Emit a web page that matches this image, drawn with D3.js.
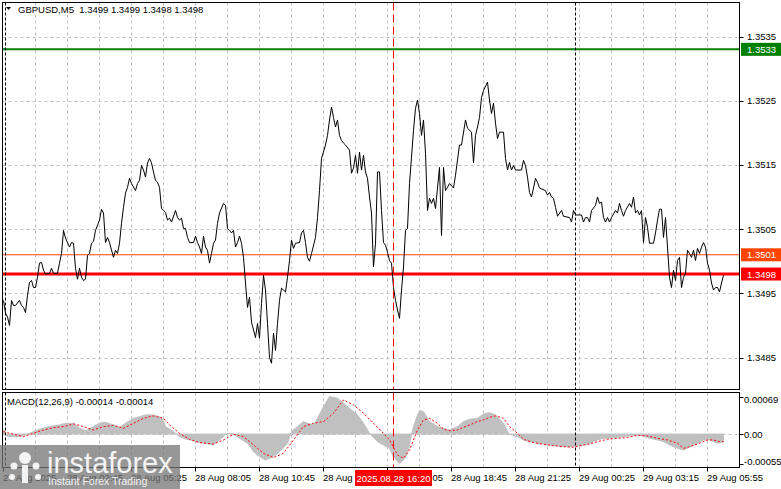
<!DOCTYPE html>
<html><head><meta charset="utf-8">
<script src="https://cdn.jsdelivr.net/npm/d3@7"></script>
<style>
body{margin:0;background:#fff;}
svg{display:block;}
text{font-family:"Liberation Sans",Arial,sans-serif;}
</style></head>
<body><svg id="chart" width="781" height="489"></svg>
<script>
// ---------- data ----------
const symbolTitle = "GBPUSD,M5";
const lastOHLC = ["1.3499", "1.3499", "1.3498", "1.3498"];
const macdTitle = "MACD(12,26,9)";
const macdLast = ["-0.00014", "-0.00014"];

// [bar index, close]
const closeSeries = [
[0,1.34939],[1,1.34919],[2,1.34913],[3,1.34900],[4,1.34939],[5,1.34931],[6,1.34931],[8,1.34939],[9,1.34931],[10,1.34928],
[11,1.34920],[12,1.34947],[13,1.34967],[14,1.34970],[15,1.34959],[16,1.34959],[17,1.34975],[18,1.34997],[19,1.34998],[20,1.34986],
[21,1.34980],[23,1.34981],[24,1.34989],[25,1.34981],[27,1.34981],[28,1.34997],[29,1.35012],[30,1.35048],[31,1.35036],[33,1.35022],
[34,1.35029],[35,1.35028],[36,1.34989],[37,1.34972],[38,1.34989],[39,1.34975],[40,1.34970],[41,1.34972],[42,1.35009],[43,1.35012],
[44,1.35028],[45,1.35031],[46,1.35048],[48,1.35064],[49,1.35081],[50,1.35075],[51,1.35029],[52,1.35037],[53,1.35029],[55,1.35006],
[56,1.35017],[57,1.35012],[58,1.35028],[59,1.35059],[60,1.35084],[61,1.35106],[62,1.35115],[63,1.35129],[64,1.35121],[66,1.35110],
[67,1.35121],[68,1.35126],[69,1.35149],[70,1.35142],[71,1.35131],[72,1.35153],[73,1.35160],[74,1.35153],[75,1.35139],[76,1.35126],
[77,1.35123],[78,1.35115],[79,1.35082],[80,1.35079],[81,1.35076],[82,1.35064],[83,1.35067],[84,1.35061],[86,1.35079],[87,1.35068],
[88,1.35064],[89,1.35067],[90,1.35051],[91,1.35051],[92,1.35037],[93,1.35029],[95,1.35029],[96,1.35039],[97,1.35029],[98,1.35022],
[99,1.35012],[100,1.35039],[101,1.35022],[102,1.35017],[103,1.34997],[104,1.35012],[105,1.35028],[106,1.35033],[107,1.35059],[108,1.35075],
[110,1.35090],[111,1.35087],[112,1.35051],[113,1.35048],[114,1.35044],[115,1.35048],[116,1.35022],[117,1.35029],[118,1.35039],[119,1.35028],
[120,1.35006],[121,1.34966],[122,1.34928],[123,1.34944],[124,1.34905],[126,1.34881],[127,1.34903],[128,1.34880],[129,1.34934],[130,1.34978],
[131,1.34955],[132,1.34903],[133,1.34850],[134,1.34841],[135,1.34888],[136,1.34861],[137,1.34903],[138,1.34939],[139,1.34958],[140,1.34955],
[141,1.34952],[142,1.34975],[143,1.35001],[144,1.35033],[145,1.35020],[146,1.35028],[148,1.35029],[149,1.35044],[150,1.35048],[151,1.35029],
[152,1.35006],[153,1.35000],[154,1.35012],[156,1.35037],[157,1.35068],[158,1.35110],[159,1.35160],[161,1.35181],[162,1.35196],[163,1.35220],
[164,1.35240],[165,1.35224],[166,1.35209],[167,1.35220],[168,1.35196],[169,1.35188],[170,1.35184],[171,1.35181],[173,1.35173],[174,1.35137],
[175,1.35145],[176,1.35165],[177,1.35137],[178,1.35170],[179,1.35142],[180,1.35165],[181,1.35139],[182,1.35129],[183,1.35100],[184,1.35075],
[185,1.34991],[186,1.35028],[187,1.35139],[188,1.35139],[189,1.35079],[190,1.35029],[191,1.35025],[192,1.35014],[193,1.35001],[194,1.34997],
[195,1.34959],[196,1.34939],[197,1.34924],[198,1.34911],[199,1.34955],[200,1.34991],[201,1.35048],[202,1.35051],[203,1.35121],[204,1.35162],
[205,1.35204],[206,1.35238],[207,1.35251],[208,1.35230],[209,1.35196],[210,1.35220],[211,1.35168],[212,1.35079],[213,1.35098],[214,1.35090],
[215,1.35098],[216,1.35082],[218,1.35146],[219,1.35040],[220,1.35146],[221,1.35110],[222,1.35115],[223,1.35121],[225,1.35114],[226,1.35134],
[228,1.35181],[229,1.35181],[231,1.35220],[232,1.35207],[234,1.35201],[235,1.35153],[236,1.35196],[237,1.35209],[238,1.35224],[239,1.35255],
[240,1.35266],[242,1.35279],[243,1.35251],[244,1.35230],[245,1.35246],[246,1.35215],[247,1.35191],[248,1.35201],[250,1.35201],[251,1.35160],
[252,1.35142],[253,1.35154],[254,1.35142],[255,1.35149],[256,1.35142],[259,1.35142],[260,1.35157],[261,1.35149],[262,1.35131],[263,1.35107],
[264,1.35100],[265,1.35114],[266,1.35129],[267,1.35123],[268,1.35114],[271,1.35110],[272,1.35103],[273,1.35107],[274,1.35100],[275,1.35098],
[276,1.35084],[277,1.35070],[279,1.35079],[280,1.35070],[283,1.35068],[284,1.35061],[285,1.35079],[286,1.35072],[289,1.35072],[290,1.35061],
[291,1.35068],[292,1.35068],[293,1.35061],[294,1.35079],[296,1.35087],[297,1.35100],[298,1.35090],[299,1.35092],[300,1.35068],[301,1.35061],
[302,1.35068],[303,1.35061],[304,1.35068],[306,1.35079],[307,1.35075],[308,1.35090],[309,1.35079],[310,1.35070],[311,1.35079],[313,1.35090],
[314,1.35084],[315,1.35100],[316,1.35075],[317,1.35079],[318,1.35072],[319,1.35079],[320,1.35029],[321,1.35068],[322,1.35053],[323,1.35028],
[325,1.35028],[326,1.35044],[327,1.35064],[328,1.35081],[329,1.35081],[330,1.35037],[331,1.35068],[332,1.35022],[333,1.34975],[334,1.34959],
[335,1.34986],[336,1.34970],[337,1.35001],[338,1.35006],[339,1.34959],[340,1.34975],[341,1.34981],[342,1.35017],[343,1.35012],[344,1.35006],
[345,1.35017],[346,1.35001],[347,1.35020],[348,1.35012],[349,1.35022],[350,1.35029],[351,1.35022],[352,1.34997],[353,1.34986],[354,1.34966],
[355,1.34955],[356,1.34959],[357,1.34959],[358,1.34952],[359,1.34966],[360,1.34978]
];

// MACD main (histogram) [bar, value]
const macdHistSeries = [
[0,0.000075],[2,-0.000047],[5,-0.000047],[8,-0.000047],[11,-0.000017],[15,0.000045],[18,0.000088],[23,0.000137],[28,0.000167],[31,0.000198],
[35,0.000198],[38,0.000106],[41,0.000063],[45,0.000137],[48,0.000198],[51,0.000216],[55,0.000167],[58,0.000124],[61,0.000198],[65,0.000290],
[68,0.000320],[71,0.000351],[75,0.000351],[78,0.000320],[80,0.000247],[81,0.000137],[85,0.000045],[88,-0.000047],[91,-0.000090],[95,-0.000121],
[98,-0.000157],[101,-0.000170],[105,-0.000200],[108,-0.000108],[110,-0.000047],[111,-0.000004],[113,0.000014],[115,-0.000004],[118,-0.000078],[122,-0.000170],
[125,-0.000323],[128,-0.000415],[131,-0.000476],[135,-0.000415],[138,-0.000323],[142,-0.000170],[144,0.000045],[147,0.000137],[150,0.000229],[152,0.000198],
[155,0.000167],[157,0.000290],[160,0.000504],[163,0.000688],[167,0.000657],[170,0.000566],[173,0.000474],[177,0.000351],[180,0.000198],[183,0.000014],
[187,-0.000139],[190,-0.000200],[193,-0.000262],[195,-0.000416],[197,-0.000507],[198,-0.000538],[200,-0.000476],[202,-0.000354],[203,-0.000200],[204,-0.000004],
[205,0.000137],[207,0.000351],[208,0.000431],[210,0.000412],[212,0.000290],[213,0.000229],[217,0.000137],[220,0.000106],[223,0.000075],[227,0.000137],
[230,0.000229],[233,0.000271],[237,0.000290],[240,0.000369],[243,0.000394],[246,0.000351],[250,0.000198],[252,0.000045],[253,-0.000004],[257,-0.000047],
[260,-0.000108],[263,-0.000139],[267,-0.000170],[270,-0.000182],[273,-0.000200],[277,-0.000219],[280,-0.000231],[283,-0.000231],[287,-0.000219],[290,-0.000200],
[293,-0.000170],[297,-0.000108],[300,-0.000078],[303,-0.000078],[307,-0.000059],[310,-0.000047],[313,-0.000035],[317,-0.000017],[320,-0.000035],[323,-0.000078],
[327,-0.000108],[330,-0.000139],[333,-0.000200],[337,-0.000262],[340,-0.000292],[343,-0.000243],[347,-0.000170],[350,-0.000108],[353,-0.000108],[357,-0.000170],
[360,-0.000140]
];

// MACD signal [bar, value]
const macdSignalSeries = [
[0,0.000045],[5,-0.000004],[10,-0.000047],[15,0.000014],[20,0.000075],[25,0.000118],[30,0.000137],[35,0.000186],[40,0.000137],[45,0.000075],
[50,0.000137],[55,0.000161],[60,0.000106],[65,0.000198],[70,0.000290],[75,0.000333],[80,0.000290],[83,0.000167],[88,0.000014],[93,-0.000096],
[98,-0.000157],[105,-0.000182],[110,-0.000108],[115,-0.000004],[120,-0.000047],[125,-0.000200],[130,-0.000354],[135,-0.000433],[140,-0.000354],[145,-0.000108],
[150,0.000137],[155,0.000198],[160,0.000229],[165,0.000382],[170,0.000627],[175,0.000535],[180,0.000382],[185,0.000198],[190,0.000014],[193,-0.000108],
[197,-0.000385],[200,-0.000446],[203,-0.000292],[207,0.000075],[210,0.000259],[213,0.000290],[217,0.000198],[220,0.000088],[223,0.000063],[227,0.000075],
[230,0.000124],[233,0.000167],[237,0.000229],[240,0.000259],[243,0.000308],[246,0.000333],[250,0.000290],[253,0.000137],[257,0.000014],[260,-0.000096],
[265,-0.000157],[270,-0.000188],[275,-0.000212],[280,-0.000231],[285,-0.000243],[290,-0.000200],[293,-0.000182],[297,-0.000139],[302,-0.000096],[307,-0.000078],
[312,-0.000065],[317,-0.000023],[322,-0.000035],[327,-0.000078],[332,-0.000108],[337,-0.000170],[340,-0.000262],[343,-0.000231],[348,-0.000170],[352,-0.000108],
[355,-0.000108],[358,-0.000139],[360,-0.000140]
];

const priceTicks = [1.3535, 1.3525, 1.3515, 1.3505, 1.3495, 1.3485];
const levelValues = [1.3533, 1.3501, 1.3498];
const macdTicks = [0.00069, 0, -0.00055];
const timeTickBars = [0, 32, 64, 96, 128, 160, 192, 224, 256, 288, 320, 352];
const timeTickLabels = ["27 Aug 2025", "28 Aug 02:45", "28 Aug 05:25", "28 Aug 08:05", "28 Aug 10:45", "28 Aug 13:25",
  "28 Aug 16:05", "28 Aug 18:45", "28 Aug 21:25", "29 Aug 00:25", "29 Aug 03:15", "29 Aug 05:55"];
const daySeparatorBars = [1, 286];
const cursorBar = 195;
const cursorLabel = "2025.08.28 16:20";
const barsInView = 368;

// ---------- layout ----------
const svg = d3.select("#chart");
const L = 2.5, R = 739.5;
const mainTop = 2.5, mainBot = 389.5;
const subTop = 392.5, subBot = 467.5;
const FS = "9.5px";

const x = d3.scaleLinear().domain([0, barsInView]).range([3.5, 739.5]);
const y = d3.scaleLinear().domain([1.3485, 1.3535]).range([357.5, 36.5]);
const ym = d3.scaleLinear().domain([-0.00055, 0.00069]).range([464, 396.5]);

svg.append("rect").attr("width", 781).attr("height", 489).attr("fill", "#fff");

const defs = svg.append("defs");
defs.append("clipPath").attr("id", "cm").append("rect").attr("x", L).attr("y", mainTop).attr("width", R - L).attr("height", mainBot - mainTop);
defs.append("clipPath").attr("id", "cs").append("rect").attr("x", L).attr("y", subTop).attr("width", R - L).attr("height", subBot - subTop);

const gridColor = "#c0c0c0";
const gridDash = "3,3";
const vGridBars = d3.range(16, barsInView, 16);

// main grid
const gm = svg.append("g").attr("clip-path", "url(#cm)");
gm.selectAll(".hg").data(priceTicks).join("line")
  .attr("x1", L).attr("x2", R).attr("y1", d => Math.round(y(d)) + 0.5).attr("y2", d => Math.round(y(d)) + 0.5)
  .attr("stroke", gridColor).attr("stroke-dasharray", gridDash);
gm.selectAll(".vg").data(vGridBars).join("line")
  .attr("x1", d => x(d)).attr("x2", d => x(d)).attr("y1", mainTop).attr("y2", mainBot)
  .attr("stroke", gridColor).attr("stroke-dasharray", gridDash);

// sub grid
const gs = svg.append("g").attr("clip-path", "url(#cs)");
gs.selectAll(".vg").data(vGridBars).join("line")
  .attr("x1", d => x(d)).attr("x2", d => x(d)).attr("y1", subTop).attr("y2", subBot)
  .attr("stroke", gridColor).attr("stroke-dasharray", gridDash);
gs.append("line").attr("x1", L).attr("x2", R).attr("y1", Math.round(ym(0)) + 0.5).attr("y2", Math.round(ym(0)) + 0.5)
  .attr("stroke", gridColor).attr("stroke-dasharray", gridDash);

// day separators
[[mainTop, mainBot], [subTop, subBot]].forEach(([a, b]) => {
  svg.selectAll(null).data(daySeparatorBars).join("line")
    .attr("x1", d => x(d)).attr("x2", d => x(d)).attr("y1", a).attr("y2", b)
    .attr("stroke", "#000").attr("stroke-dasharray", "3,2");
});

// histogram
gs.append("path").datum(macdHistSeries)
  .attr("d", d3.area().x(d => x(d[0])).y0(ym(0)).y1(d => ym(d[1])))
  .attr("fill", "#c0c0c0").attr("stroke", "#c0c0c0").attr("stroke-width", 1);
// signal
gs.append("path").datum(macdSignalSeries)
  .attr("d", d3.line().x(d => x(d[0])).y(d => ym(d[1])))
  .attr("fill", "none").attr("stroke", "#ff0000").attr("stroke-width", 1).attr("stroke-dasharray", "2,2");

// level lines
const levelColors = ["#008000", "#ff4500", "#ff0000"];
const levelWidths = [2, 1, 3];
gm.selectAll(".lv").data(levelValues).join("line")
  .attr("x1", L).attr("x2", R).attr("y1", d => y(d)).attr("y2", d => y(d))
  .attr("stroke", (d, i) => levelColors[i]).attr("stroke-width", (d, i) => levelWidths[i]);

// cursor vertical line
[[mainTop, mainBot], [subTop, subBot]].forEach(([a, b]) => {
  svg.append("line").attr("x1", x(cursorBar)).attr("x2", x(cursorBar)).attr("y1", a).attr("y2", b)
    .attr("stroke", "#ff0000").attr("stroke-dasharray", "8,4");
});

// price line
gm.append("path").datum(closeSeries)
  .attr("d", d3.line().x(d => x(d[0])).y(d => y(d[1])))
  .attr("fill", "none").attr("stroke", "#000").attr("stroke-width", 1);

// frames
svg.append("rect").attr("x", L).attr("y", mainTop).attr("width", R - L).attr("height", mainBot - mainTop)
  .attr("fill", "none").attr("stroke", "#000");
svg.append("rect").attr("x", L).attr("y", subTop).attr("width", R - L).attr("height", subBot - subTop)
  .attr("fill", "none").attr("stroke", "#000");

// right price axis
svg.selectAll(".pt").data(priceTicks).join("line")
  .attr("x1", R).attr("x2", R + 4).attr("y1", d => Math.round(y(d)) + 0.5).attr("y2", d => Math.round(y(d)) + 0.5).attr("stroke", "#000");
svg.selectAll(".pl").data(priceTicks).join("text")
  .attr("x", 747).attr("y", d => y(d) + 3.5).attr("font-size", FS).attr("fill", "#000")
  .text(d => d.toFixed(4));

// level labels
const lvG = svg.selectAll(".lvl").data(levelValues).join("g");
lvG.append("rect").attr("x", 741).attr("y", d => y(d) - 6.5).attr("width", 40).attr("height", 13)
  .attr("fill", (d, i) => levelColors[i]);
lvG.append("text").attr("x", 747).attr("y", d => y(d) + 3.5).attr("font-size", FS).attr("fill", "#fff")
  .text(d => d.toFixed(4));

// macd axis
svg.selectAll(".mt").data(macdTicks).join("line")
  .attr("x1", R).attr("x2", R + 4).attr("y1", d => Math.round(ym(d)) + 0.5).attr("y2", d => Math.round(ym(d)) + 0.5).attr("stroke", "#000");
svg.selectAll(".ml").data(macdTicks).join("text")
  .attr("x", 744).attr("y", (d, i) => ym(d) + 3.5 + (i === 0 ? 2.5 : i === 2 ? -3 : 0)).attr("font-size", FS).attr("fill", "#000")
  .text(d => d === 0 ? "0.00" : d.toFixed(5));

// time axis
svg.selectAll(".tt").data(timeTickBars).join("line")
  .attr("x1", d => x(d)).attr("x2", d => x(d)).attr("y1", subBot).attr("y2", subBot + 4).attr("stroke", "#000");
svg.selectAll(".tl").data(timeTickBars).join("text")
  .attr("x", d => x(d) - 0.5).attr("y", 481).attr("font-size", FS).attr("fill", "#000")
  .text((d, i) => timeTickLabels[i]);

// cursor time label
const cw = 77;
svg.append("rect").attr("x", x(cursorBar) - cw / 2).attr("y", 470).attr("width", cw).attr("height", 16).attr("fill", "#ff0000");
svg.append("text").attr("x", x(cursorBar)).attr("y", 481.5).attr("text-anchor", "middle").attr("font-size", FS).attr("fill", "#fff").text(cursorLabel);

// headers
svg.append("path").attr("d", "M6,7 L11,7 L8.5,10 Z").attr("fill", "#000");
svg.append("text").attr("x", 18).attr("y", 13).attr("font-size", FS).attr("fill", "#000")
  .attr("xml:space", "preserve").text(symbolTitle + "  " + lastOHLC.join(" "));
svg.append("text").attr("x", 7).attr("y", 405).attr("font-size", FS).attr("fill", "#000")
  .text(macdTitle + " " + macdLast.join(" "));

// watermark
const wm = svg.append("g");
wm.append("rect").attr("x", 0).attr("y", 445).attr("width", 180).attr("height", 44).attr("fill", "#747474").attr("opacity", 0.75);
const ic = wm.append("g").attr("fill", "#fff").attr("opacity", 0.9);
ic.append("circle").attr("cx", 25).attr("cy", 458).attr("r", 6);
ic.append("rect").attr("x", 22).attr("y", 465).attr("width", 6).attr("height", 18);
ic.append("circle").attr("cx", 14).attr("cy", 466).attr("r", 3.5);
ic.append("circle").attr("cx", 36).attr("cy", 466).attr("r", 3.5);
ic.append("circle").attr("cx", 12).attr("cy", 477).attr("r", 3);
ic.append("circle").attr("cx", 38).attr("cy", 477).attr("r", 3);
wm.append("text").attr("x", 47).attr("y", 473).attr("font-size", "29px").attr("fill", "#fff").attr("opacity", 0.9)
  .attr("font-family", "'Open Sans',sans-serif").text("instaforex");
wm.append("text").attr("x", 48).attr("y", 485).attr("font-size", "10.5px").attr("fill", "#fff").attr("opacity", 0.9)
  .attr("font-family", "'Open Sans',sans-serif").text("Instant Forex Trading");
</script></body></html>
